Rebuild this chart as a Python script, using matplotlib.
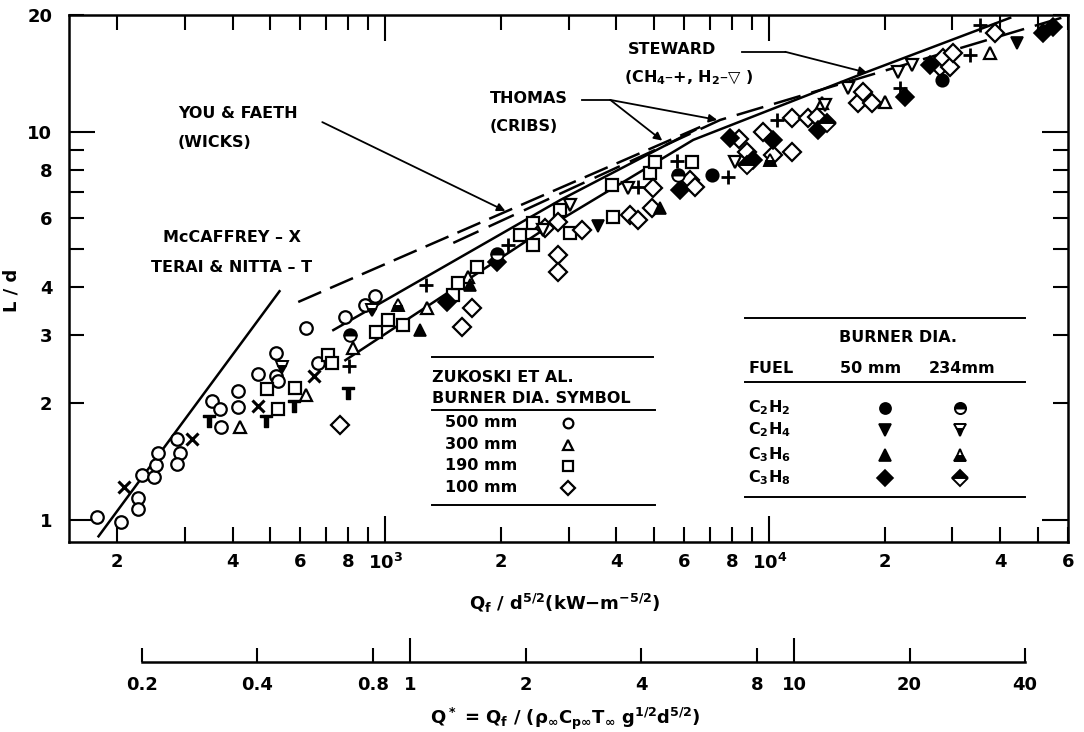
import numpy as np
import matplotlib.pyplot as plt

plt.rcParams['font.family'] = 'DejaVu Sans'
plt.rcParams['font.weight'] = 'bold'
plt.rcParams['axes.labelweight'] = 'bold'
plt.rcParams['mathtext.default'] = 'regular'
plt.rcParams['lines.scale_dashes'] = False

# Zukoski et al. (open symbols, by burner diameter)
z500_x = [177, 205, 227, 227, 233, 249, 253, 256, 287, 291, 287, 354, 370, 374, 414, 414,
          467, 520, 520, 526, 622, 669, 787, 887, 942]
z500_y = [1.02, 0.99, 1.14, 1.07, 1.31, 1.29, 1.39, 1.49, 1.62, 1.49, 1.40, 2.03, 1.94, 1.74,
          2.15, 1.96, 2.38, 2.69, 2.35, 2.28, 3.13, 2.54, 3.34, 3.58, 3.78]
z300_x = [419, 622, 825, 1286, 1645, 13740, 20050, 37630]
z300_y = [1.74, 2.10, 2.78, 3.52, 4.23, 11.9, 11.95, 16.0]
z190_x = [493, 526, 583, 711, 728, 948, 1018, 1114, 1503, 1549, 1737, 2247, 2429, 2429,
          2856, 3033, 3899, 3920, 4898, 5047, 6303]
z190_y = [2.18, 1.94, 2.19, 2.66, 2.54, 3.05, 3.28, 3.18, 3.80, 4.08, 4.49, 5.43, 5.83, 5.11,
          6.30, 5.49, 7.30, 6.04, 7.84, 8.37, 8.37]
z100_x = [763, 1587, 1685, 2611, 2821, 2821, 2821, 3258, 4345, 4562, 4955, 4990, 6223, 6412,
          8356, 8765, 9640, 10240, 11490, 11490, 12640, 13340, 17050, 17580, 18540, 27870,
          28370, 29600, 30120, 38780]
z100_y = [1.76, 3.15, 3.52, 5.66, 5.86, 4.82, 4.36, 5.59, 6.11, 5.93, 6.37, 7.17, 7.52, 7.21,
          9.59, 8.88, 10.0, 8.72, 10.87, 8.88, 10.87, 10.93, 11.88, 12.68, 11.88, 14.71,
          15.5, 14.71, 15.98, 18.0]

# McCaffrey (X) and Terai & Nitta (T)
mcc_x = [209, 314, 467, 653]
mcc_y = [1.22, 1.62, 1.97, 2.36]
terai_x = [348, 490, 579, 801]
terai_y = [1.80, 1.80, 1.97, 2.13]

# Steward: CH4 (+), H2 (open down triangle)
ch4_x = [806, 1279, 2090, 4562, 5760, 7814, 10490, 21930, 33370, 35400]
ch4_y = [2.50, 4.03, 5.11, 7.21, 8.42, 7.66, 10.74, 12.98, 15.79, 18.87]
h2_x = [2578, 3033, 4293, 8155, 13990, 16060, 21670, 23570]
h2_y = [5.59, 6.48, 7.17, 8.37, 11.74, 12.98, 14.28, 14.9]

# 50 mm burner (filled)
c2h2_50_x = [7106, 28220]
c2h2_50_y = [7.75, 13.6]
c2h4_50_x = [3586, 44240]
c2h4_50_y = [5.72, 16.96]
c3h6_50_x = [1233, 1665, 5200]
c3h6_50_y = [3.09, 4.03, 6.37]
c3h8_50_x = [1451, 1957, 5862, 7906, 9075, 10240, 13420, 22590, 26240, 51700, 54900]
c3h8_50_y = [3.65, 4.62, 7.09, 9.65, 8.47, 9.54, 10.12, 12.3, 14.9, 18.0, 18.65]

# 234 mm burner (half filled)
c2h2_234_x = [811, 1957, 5797]
c2h2_234_y = [3.0, 4.85, 7.75]
c2h4_234_x = [539, 925]
c2h4_234_y = [2.48, 3.48]
c3h6_234_x = [1081, 10060]
c3h6_234_y = [3.58, 8.47]
c3h8_234_x = [8765, 14160]
c3h8_234_y = [8.22, 10.55]

# correlations
mccaffrey_line_x = [179, 530]
mccaffrey_line_y = [0.91, 3.89]
youfaeth_x = [593, 6612]
youfaeth_y = [3.65, 10.3]
thomas1_x = [732, 2856, 6413]
thomas1_y = [3.09, 6.68, 10.12]
thomas2_x = [1503, 7457, 59000]
thomas2_y = [5.18, 10.74, 19.8]
steward_x = [787, 2533, 6340, 18000, 42420]
steward_y = [2.585, 5.53, 9.54, 14.28, 19.67]

xmaj = [1e3, 1e4]
xmaj_lab = ['10$^3$', '10$^4$']
xmin = [200, 300, 400, 500, 600, 700, 800, 900, 2000, 3000, 4000, 5000, 6000, 7000, 8000,
        9000, 20000, 30000, 40000, 50000, 60000]
xmin_lab = ['2', '', '4', '', '6', '', '8', '', '2', '', '4', '', '6', '', '8', '',
            '2', '', '4', '', '6']
ymaj = [1, 10]
ymaj_lab = ['1', '10']
ymin = [2, 3, 4, 5, 6, 7, 8, 9, 20]
ymin_lab = ['2', '3', '4', '', '6', '', '8', '', '20']
qmaj = [1, 10]
qmaj_lab = ['1', '10']
qmin = [0.2, 0.4, 0.8, 2, 4, 8, 20, 40]
qmin_lab = ['0.2', '0.4', '0.8', '2', '4', '8', '20', '40']
QSCALE = 1160.0

fig = plt.figure(figsize=(10.84, 7.32), dpi=100)
ax = fig.add_axes([0.0637, 0.2596, 0.9215, 0.7199])
ax.set_xscale('log')
ax.set_yscale('log')
ax.set_xlim(150, 60000)
ax.set_ylim(0.88, 20)

lw = 1.8
ax.plot(mccaffrey_line_x, mccaffrey_line_y, color='k', lw=lw)
l, = ax.plot(youfaeth_x, youfaeth_y, color='k', lw=lw)
l.set_dashes([18, 7])
ax.plot(thomas1_x, thomas1_y, color='k', lw=lw)
l, = ax.plot(thomas2_x, thomas2_y, color='k', lw=lw)
l.set_dashes([20, 8])
ax.plot(steward_x, steward_y, color='k', lw=lw)

ms = 9
open_kw = dict(ls='none', mfc='white', mec='k', mew=1.6, ms=ms, zorder=3)
fill_kw = dict(ls='none', mfc='k', mec='k', mew=1.2, ms=ms, zorder=3)
half_kw = dict(ls='none', mfc='k', mfcalt='white', mec='k', mew=1.4, ms=ms, zorder=3)

ax.plot(z500_x, z500_y, marker='o', **open_kw)
ax.plot(z300_x, z300_y, marker='^', **open_kw)
ax.plot(z190_x, z190_y, marker='s', **open_kw)
ax.plot(z100_x, z100_y, marker='D', **open_kw)
ax.plot(h2_x, h2_y, marker='v', **open_kw)
ax.plot(ch4_x, ch4_y, ls='none', marker='+', ms=10, mew=2, color='k', zorder=3)
ax.plot(mcc_x, mcc_y, ls='none', marker='x', ms=8, mew=2.2, color='k', zorder=3)
ax.plot(terai_x, terai_y, ls='none', marker='$T$', ms=9, color='k', zorder=3)

ax.plot(c2h2_50_x, c2h2_50_y, marker='o', **fill_kw)
ax.plot(c2h4_50_x, c2h4_50_y, marker='v', **fill_kw)
ax.plot(c3h6_50_x, c3h6_50_y, marker='^', **fill_kw)
ax.plot(c3h8_50_x, c3h8_50_y, marker='D', **fill_kw)
ax.plot(c2h2_234_x, c2h2_234_y, marker='o', fillstyle='top', **half_kw)
ax.plot(c2h4_234_x, c2h4_234_y, marker='v', fillstyle='bottom', **half_kw)
ax.plot(c3h6_234_x, c3h6_234_y, marker='^', fillstyle='bottom', **half_kw)
ax.plot(c3h8_234_x, c3h8_234_y, marker='D', fillstyle='top', **half_kw)

# ticks
ax.set_xticks(xmaj, labels=xmaj_lab)
ax.set_xticks(xmin, labels=xmin_lab, minor=True)
ax.set_yticks(ymaj, labels=ymaj_lab)
ax.set_yticks(ymin, labels=ymin_lab, minor=True)
ax.tick_params(which='both', direction='in', top=True, right=True, width=1.5,
               labelsize=13)
ax.tick_params(which='major', length=19)
ax.tick_params(which='minor', length=11)
ax.tick_params(axis='x', which='both', pad=8)
ax.tick_params(axis='y', which='both', pad=12)
for s in ax.spines.values():
    s.set_linewidth(1.8)

ax.set_xlabel('Q$_f$ / d$^{5/2}$(kW$-$m$^{-5/2}$)', fontsize=13, fontweight='bold')
ax.xaxis.set_label_coords(0.4965, -0.095)
ax.set_ylabel('L / d', fontsize=13, fontweight='bold')
ax.yaxis.set_label_coords(-0.049, 0.478)

sec = ax.secondary_xaxis(-0.2277, functions=(lambda x: x / QSCALE, lambda q: q * QSCALE))
sec.set_xticks(qmaj, labels=qmaj_lab)
sec.set_xticks(qmin, labels=qmin_lab, minor=True)
sec.tick_params(which='both', direction='in', width=1.5, labelsize=13, pad=10)
sec.tick_params(which='major', length=17)
sec.tick_params(which='minor', length=10)
sec.spines['bottom'].set_linewidth(1.8)
sec.spines['bottom'].set_bounds(0.2, 40)
sec.set_xlabel('Q$^*$ = Q$_f$ / ($\\rho_\\infty$C$_{p\\infty}$T$_\\infty$ g$^{1/2}$d$^{5/2}$)',
               fontsize=13, fontweight='bold')
sec.xaxis.set_label_coords(0.4965, -0.31, transform=ax.transAxes)

# annotations
tk = dict(transform=ax.transAxes, fontsize=11.5, va='center')
ax.text(0.163, 0.577, 'McCAFFREY – X', ha='center', **tk)
ax.text(0.163, 0.520, 'TERAI & NITTA – T', ha='center', **tk)
ax.text(0.109, 0.814, 'YOU & FAETH', ha='left', **tk)
ax.text(0.109, 0.759, '(WICKS)', ha='left', **tk)
ax.text(0.4214, 0.8425, 'THOMAS', ha='left', **tk)
ax.text(0.4214, 0.7875, '(CRIBS)', ha='left', **tk)
ax.text(0.5596, 0.9336, 'STEWARD', ha='left', **tk)
ax.text(0.5560, 0.8805, '(CH$_4$–+, H$_2$–▽ )', ha='left', **tk)

arw = dict(arrowstyle='-|>', lw=1.3, color='k', mutation_scale=12, shrinkA=0, shrinkB=0)
ax.annotate('', xy=(2054, 6.26), xytext=(685, 10.6), arrowprops=arw)
ax.plot([3258, 3855], [12.09, 12.09], color='k', lw=1.3)
ax.annotate('', xy=(5264, 9.5), xytext=(3855, 12.09), arrowprops=arw)
ax.annotate('', xy=(7320, 10.74), xytext=(3855, 12.09), arrowprops=arw)
ax.plot([8505, 11010], [16.08, 16.08], color='k', lw=1.3)
ax.annotate('', xy=(18000, 14.2), xytext=(11010, 16.08), arrowprops=arw)

# tables
def hline(x0, x1, y):
    ax.plot([x0, x1], [y, y], color='k', lw=1.4, transform=ax.transAxes, clip_on=False)

def sym(x, y, **kw):
    ax.plot([x], [y], transform=ax.transAxes, clip_on=False, **kw)

hline(0.3634, 0.5846, 0.351)
ax.text(0.3634, 0.3112, 'ZUKOSKI ET AL.', ha='left', **tk)
ax.text(0.3634, 0.2732, 'BURNER DIA. SYMBOL', ha='left', **tk)
hline(0.3634, 0.5866, 0.2505)
rows_z = ['500 mm', '300 mm', '190 mm', '100 mm']
rows_zy = [0.2258, 0.1841, 0.1442, 0.1025]
rows_zm = ['o', '^', 's', 'D']
for lab, yy, mk in zip(rows_z, rows_zy, rows_zm):
    ax.text(0.3764, yy, lab, ha='left', **tk)
    sym(0.4995, yy, marker=mk, **dict(open_kw, ms=7))
hline(0.3634, 0.5866, 0.0702)

hline(0.6767, 0.957, 0.425)
ax.text(0.8298, 0.3871, 'BURNER DIA.', ha='center', **tk)
ax.text(0.6797, 0.330, 'FUEL', ha='left', **tk)
ax.text(0.8028, 0.330, '50 mm', ha='center', **tk)
ax.text(0.8939, 0.330, '234mm', ha='center', **tk)
hline(0.6767, 0.957, 0.3036)
fuels = ['C$_2$H$_2$', 'C$_2$H$_4$', 'C$_3$H$_6$', 'C$_3$H$_8$']
fuels_y = [0.2543, 0.2125, 0.165, 0.1214]
fuels_m = ['o', 'v', '^', 'D']
fuels_fs = ['top', 'bottom', 'bottom', 'top']
for lab, yy, mk, fs in zip(fuels, fuels_y, fuels_m, fuels_fs):
    ax.text(0.6797, yy, lab, ha='left', **tk)
    sym(0.8168, yy, marker=mk, **dict(fill_kw, ms=8))
    sym(0.8919, yy, marker=mk, fillstyle=fs, **dict(half_kw, ms=8))
hline(0.6767, 0.957, 0.0854)

fig.savefig('out.png', dpi=100)
